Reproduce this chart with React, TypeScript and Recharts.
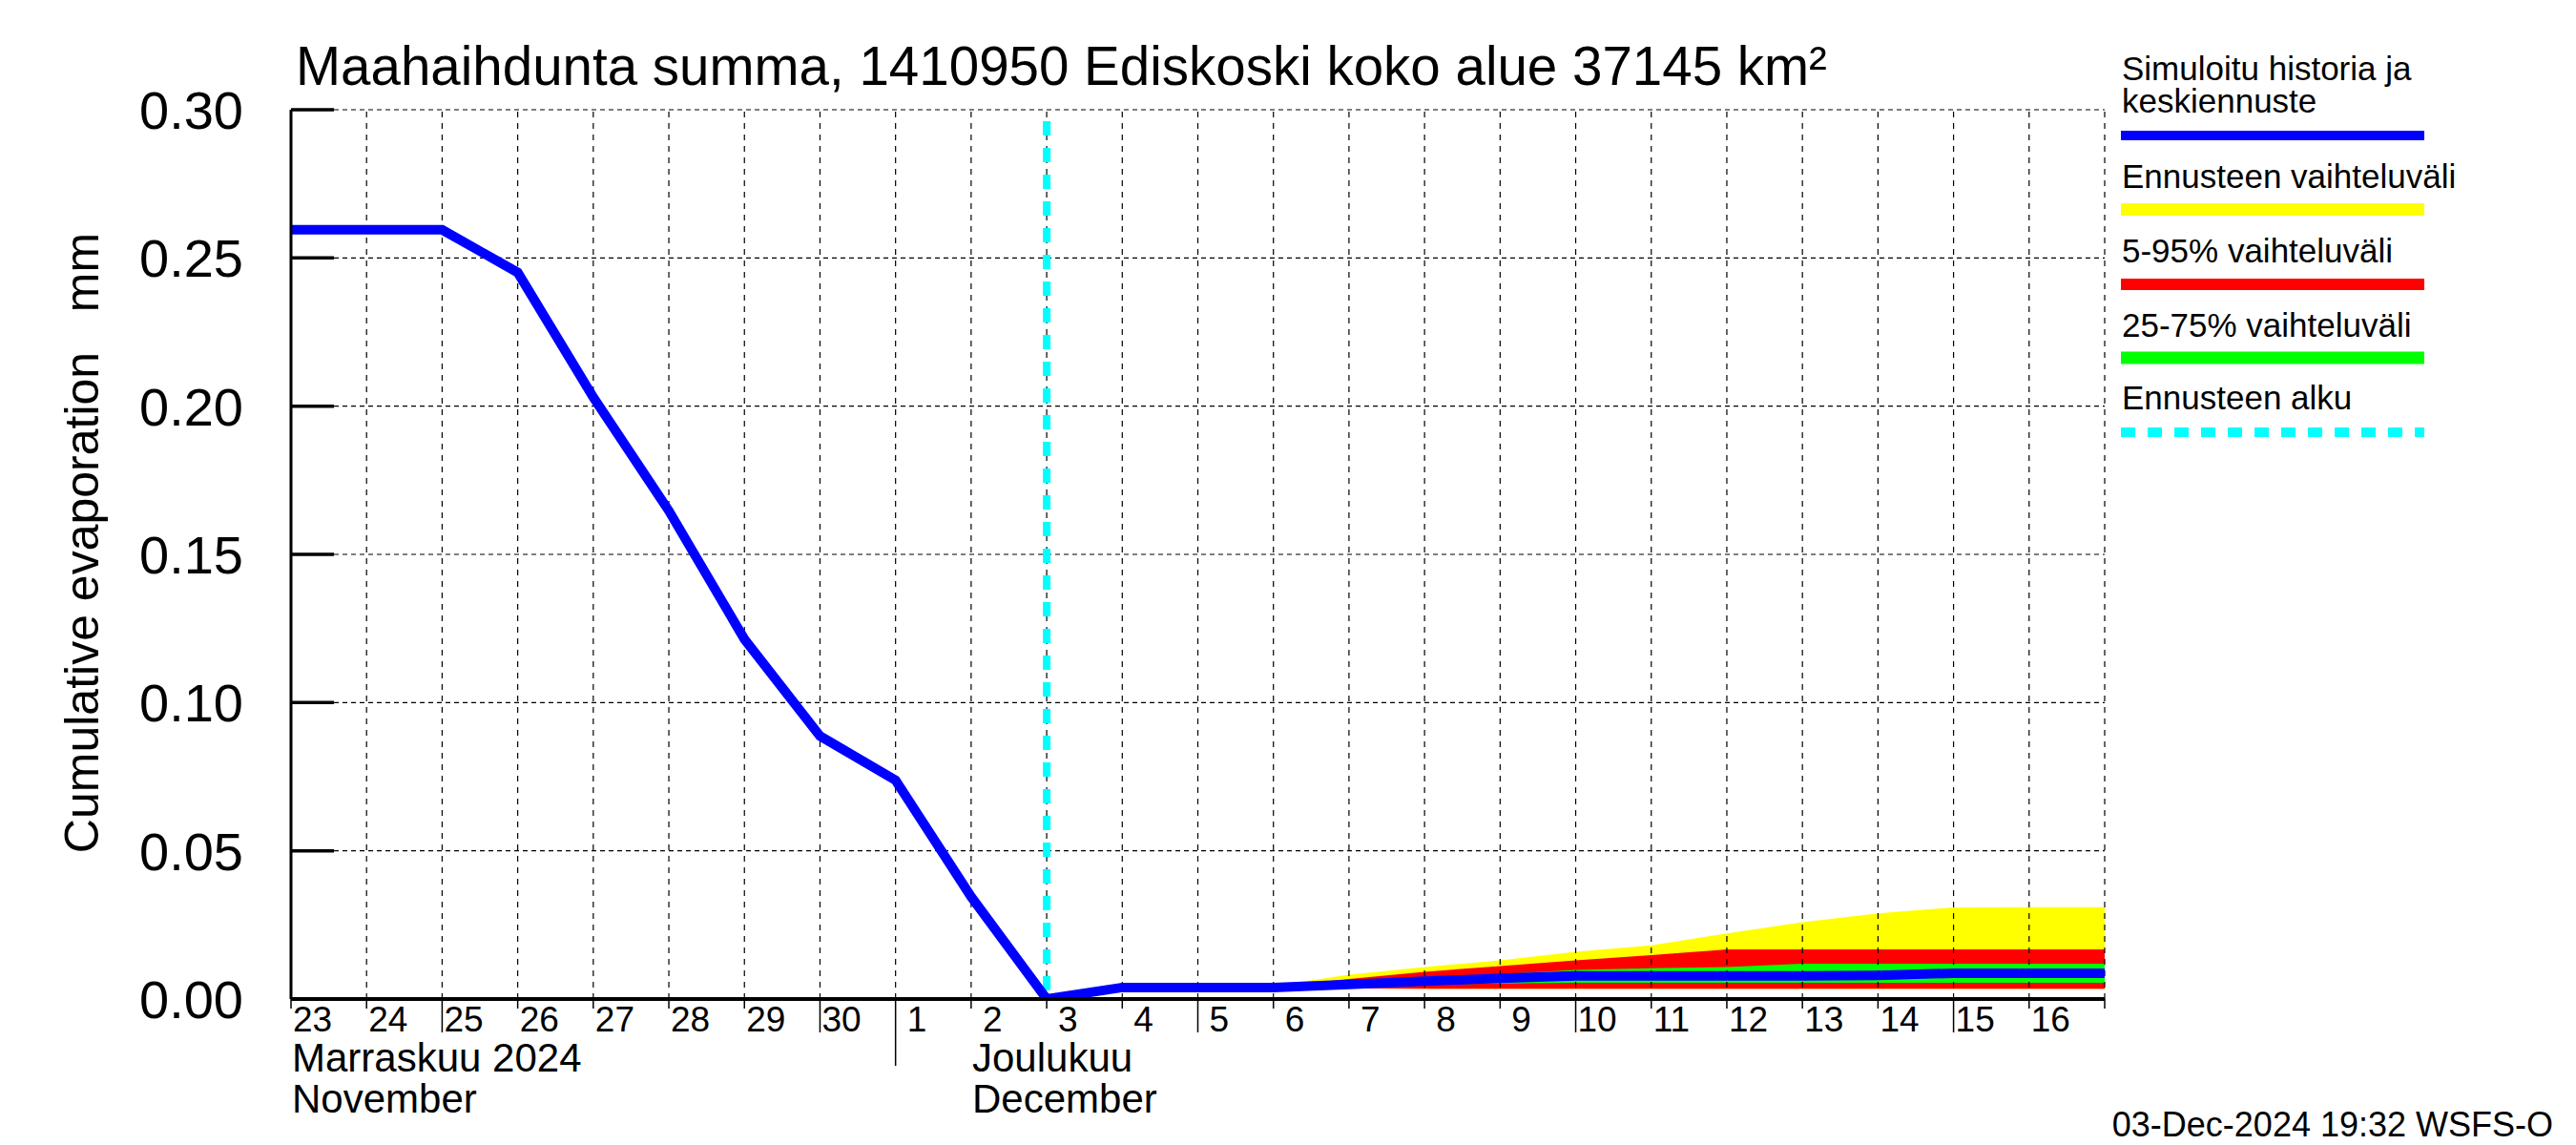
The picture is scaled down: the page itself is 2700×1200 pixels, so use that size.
import React from "react";
import { ComposedChart, Area, Line, XAxis, YAxis, ReferenceLine } from "recharts";

const dayLabels = ["23","24","25","26","27","28","29","30","1","2","3","4","5","6","7","8","9","10","11","12","13","14","15","16","17"];
const meanValues = [0.2595,0.2595,0.2595,0.2451,0.203,0.1647,0.1214,0.0887,0.0738,0.0345,0.0,0.0039,0.0039,0.0039,0.0049,0.006,0.007,0.0078,0.0078,0.0078,0.0078,0.008,0.0087,0.0087,0.0087];
const N = null;
const rangeMax = [N,N,N,N,N,N,N,N,N,N,0,0.0039,0.0039,0.0044,0.0082,0.0108,0.013,0.0159,0.0181,0.0221,0.0259,0.0289,0.0309,0.031,0.031];
const rangeMin = [N,N,N,N,N,N,N,N,N,N,0,0.0039,0.0039,0.0038,0.0036,0.0034,0.0034,0.0034,0.0034,0.0034,0.0034,0.0034,0.0034,0.0034,0.0034];
const p95 = [N,N,N,N,N,N,N,N,N,N,0,0.0039,0.0039,0.0042,0.0068,0.0092,0.0111,0.013,0.0148,0.0167,0.0167,0.0167,0.0167,0.0167,0.0167];
const p5 = [N,N,N,N,N,N,N,N,N,N,0,0.0039,0.0039,0.0038,0.0036,0.0035,0.0035,0.0035,0.0035,0.0035,0.0035,0.0035,0.0035,0.0035,0.0035];
const p75 = [N,N,N,N,N,N,N,N,N,N,0,0.0039,0.0039,0.004,0.005,0.0062,0.0084,0.0098,0.0104,0.0108,0.0119,0.0119,0.0119,0.0119,0.0119];
const p25 = [N,N,N,N,N,N,N,N,N,N,0,0.0039,0.0039,0.0038,0.004,0.0048,0.0052,0.0055,0.0055,0.0055,0.0055,0.0055,0.0055,0.0055,0.0055];
const yTicks = [0, 0.05, 0.1, 0.15, 0.2, 0.25, 0.3];
const forecastStart = 10;

const data = dayLabels.map((label, i) => ({
  d: i,
  label,
  mean: meanValues[i],
  range: rangeMax[i] == null ? null : [rangeMin[i], rangeMax[i]],
  p595: p95[i] == null ? null : [p5[i], p95[i]],
  p2575: p75[i] == null ? null : [p25[i], p75[i]],
}));

const FONT = "'Liberation Sans', Arial, Helvetica, sans-serif";

const XTick = (props: any) => {
  const { x, payload } = props;
  const i = payload.value as number;
  const label = dayLabels[i];
  let len = 10;
  if (i === 8) len = 70;
  else if (i < 24 && Number(label) % 5 === 0) len = 35;
  const off = label.length === 1 ? 12 : 2;
  const y0 = 1047;
  return (
    <g>
      <line x1={x} x2={x} y1={y0} y2={y0 + len} stroke="#000" strokeWidth={1.5} />
      {i < 24 && (
        <text x={x + off} y={y0 + 34} fontSize={37} fontFamily={FONT} fill="#000" textAnchor="start">
          {label}
        </text>
      )}
    </g>
  );
};

const YTick = (props: any) => {
  const { y, payload } = props;
  const v = payload.value as number;
  const x0 = 305;
  return (
    <g>
      <line x1={x0} x2={x0 + 45} y1={y} y2={y} stroke="#000" strokeWidth={3.5} />
      <text x={x0 - 50} y={y} dy="0.36em" fontSize={56} fontFamily={FONT} fill="#000" textAnchor="end">
        {v.toFixed(2)}
      </text>
    </g>
  );
};

const legendItems = [
  { lines: ["Simuloitu historia ja", "keskiennuste"], color: "#0000FF", h: 10, dash: false },
  { lines: ["Ennusteen vaihteluväli"], color: "#FFFF00", h: 13, dash: false },
  { lines: ["5-95% vaihteluväli"], color: "#FF0000", h: 12, dash: false },
  { lines: ["25-75% vaihteluväli"], color: "#00FF00", h: 13, dash: false },
  { lines: ["Ennusteen alku"], color: "#00FFFF", h: 10, dash: true },
];
const legendBaselines = [[84, 118], [197], [275], [353], [429]];
const legendBars = [142, 219.5, 298, 375, 453];

export default function App() {
  return (
    <div style={{ position: "relative", width: 2700, height: 1200, background: "#fff" }}>
      <style>{`body{margin:0;background:#fff}`}</style>
      <ComposedChart
        width={2700}
        height={1200}
        data={data}
        margin={{ top: 115, right: 494, bottom: 143, left: 295 }}
      >
        <XAxis
          dataKey="d"
          type="number"
          domain={[0, 24]}
          ticks={dayLabels.map((_, i) => i)}
          interval={0}
          height={10}
          tickSize={0}
          tickMargin={0}
          tickLine={false}
          axisLine={{ stroke: "#000", strokeWidth: 4 }}
          tick={XTick}
          allowDataOverflow
        />
        <YAxis
          type="number"
          domain={[0, 0.3]}
          ticks={yTicks}
          interval={0}
          width={10}
          tickSize={0}
          tickMargin={0}
          tickLine={false}
          axisLine={{ stroke: "#000", strokeWidth: 3 }}
          tick={YTick}
          allowDataOverflow
        />
        <Area dataKey="range" type="linear" stroke="none" fill="#FFFF00" fillOpacity={1} isAnimationActive={false} connectNulls={false} />
        <Area dataKey="p595" type="linear" stroke="none" fill="#FF0000" fillOpacity={1} isAnimationActive={false} connectNulls={false} />
        <Area dataKey="p2575" type="linear" stroke="none" fill="#00FF00" fillOpacity={1} isAnimationActive={false} connectNulls={false} />
        {dayLabels.map((_, i) =>
          i > 0 ? (
            <ReferenceLine key={"vx" + i} x={i} stroke="#000" strokeWidth={1.2} strokeDasharray="6 6" />
          ) : null
        )}
        {yTicks.map((t) =>
          t > 0 ? (
            <ReferenceLine key={"hy" + t} y={t} stroke="#000" strokeWidth={1.2} strokeDasharray="5 4" />
          ) : null
        )}
        <ReferenceLine x={forecastStart} stroke="#00FFFF" strokeWidth={8} strokeDasharray="15 13" strokeDashoffset={19} />
        <Line dataKey="mean" type="linear" stroke="#0000FF" strokeWidth={10} dot={false} isAnimationActive={false} />
      </ComposedChart>
      <svg
        width={2700}
        height={1200}
        style={{ position: "absolute", left: 0, top: 0, pointerEvents: "none" }}
        fontFamily={FONT}
      >
        <text x={310} y={89} fontSize={56.5} fill="#000">
          Maahaihdunta summa, 1410950 Ediskoski koko alue 37145 km²
        </text>
        <text
          x={103}
          y={569}
          fontSize={50}
          fill="#000"
          textAnchor="middle"
          transform="rotate(-90 103 569)"
          style={{ whiteSpace: "pre" }}
        >
          {"Cumulative evaporation   mm"}
        </text>
        <text x={306} y={1123} fontSize={42} fill="#000">Marraskuu 2024</text>
        <text x={306} y={1166} fontSize={42} fill="#000">November</text>
        <text x={1019} y={1123} fontSize={42} fill="#000">Joulukuu</text>
        <text x={1019} y={1166} fontSize={42} fill="#000">December</text>
        <text x={2676} y={1191} fontSize={36} fill="#000" textAnchor="end">03-Dec-2024 19:32 WSFS-O</text>
        {legendItems.map((it, k) => (
          <g key={k}>
            {it.lines.map((ln, j) => (
              <text key={j} x={2224} y={legendBaselines[k][j]} fontSize={35} fill="#000">
                {ln}
              </text>
            ))}
            <line
              x1={2223}
              x2={2541}
              y1={legendBars[k]}
              y2={legendBars[k]}
              stroke={it.color}
              strokeWidth={it.h}
              strokeDasharray={it.dash ? "15 13" : undefined}
            />
          </g>
        ))}
      </svg>
    </div>
  );
}
